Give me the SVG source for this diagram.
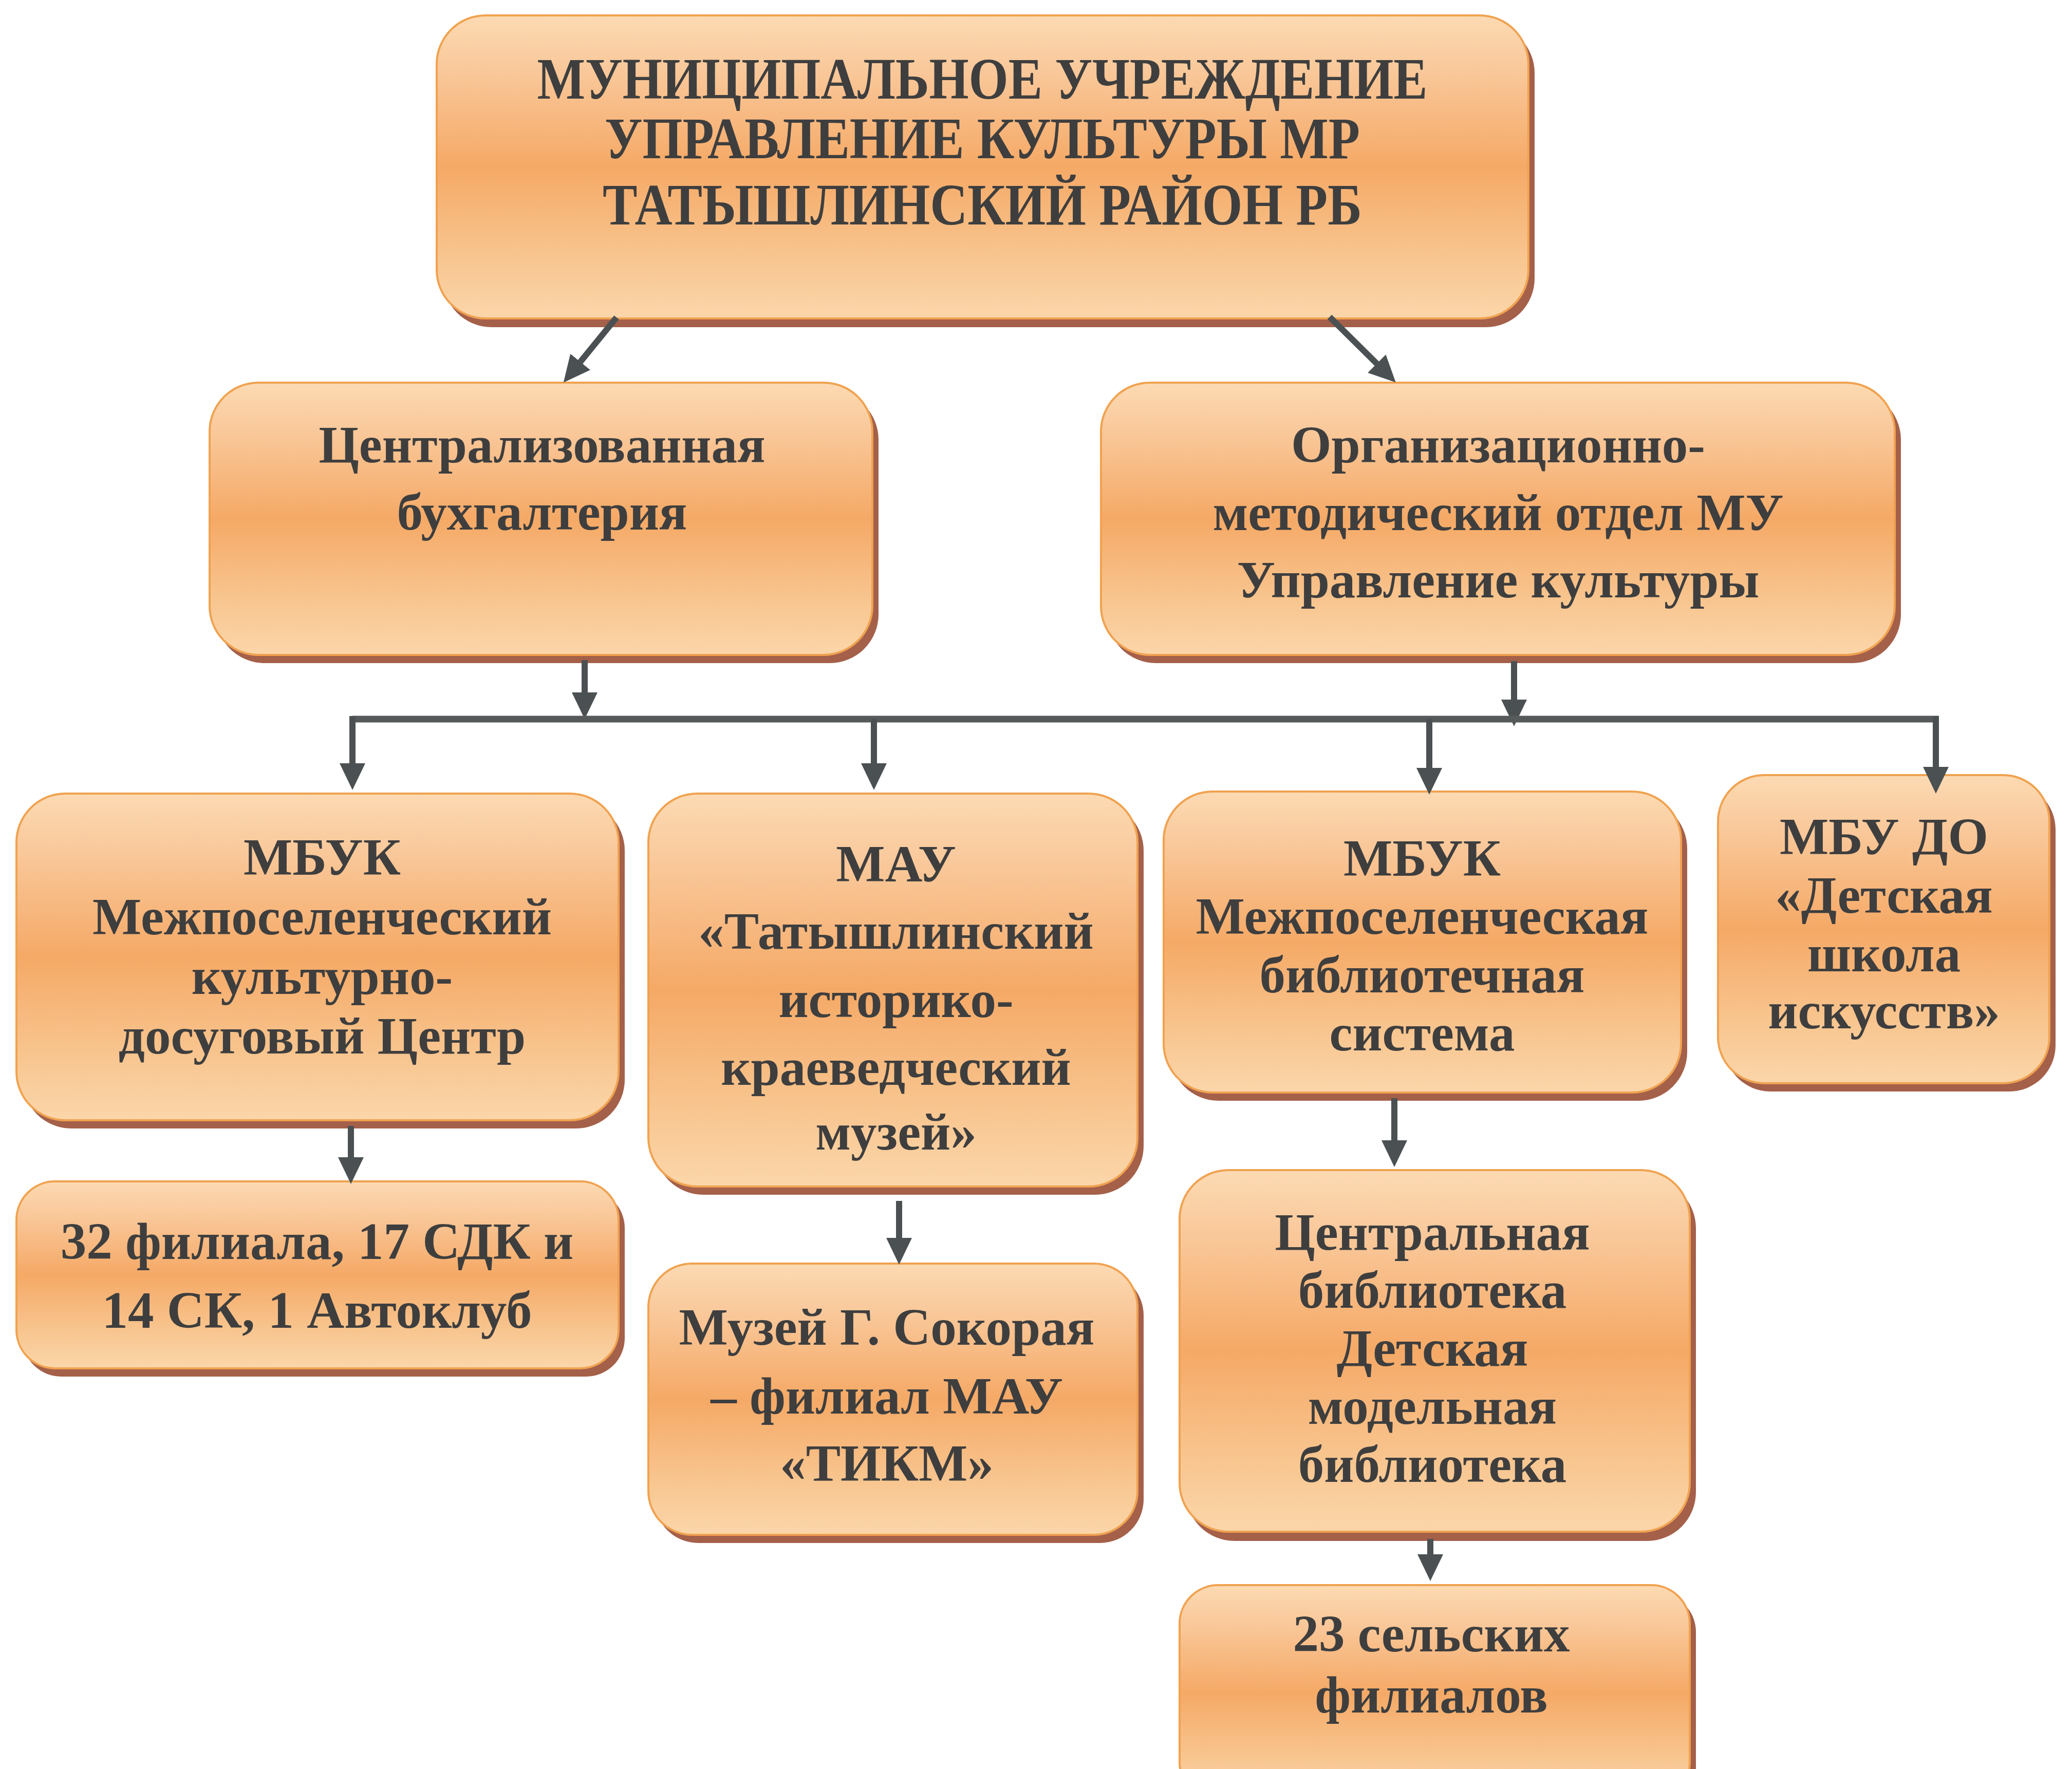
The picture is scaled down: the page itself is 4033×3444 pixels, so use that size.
<svg xmlns="http://www.w3.org/2000/svg" width="4033" height="3444" viewBox="0 0 4033 3444">
<defs>
<linearGradient id="fill" x1="0" y1="0" x2="0" y2="1">
<stop offset="0" stop-color="#fcdab3"/>
<stop offset="0.18" stop-color="#f9c89a"/>
<stop offset="0.5" stop-color="#f5a966"/>
<stop offset="0.82" stop-color="#f8c792"/>
<stop offset="1" stop-color="#fbd6aa"/>
</linearGradient>
<marker id="ah" markerUnits="userSpaceOnUse" markerWidth="52" markerHeight="50" viewBox="0 0 52 50" refX="20" refY="25" orient="auto">
<path d="M0,0 L52,25 L0,50 z" fill="#4b5153"/>
</marker>
</defs>
<style>
.sh{fill:#a5604a}
.bx{fill:url(#fill);stroke:#f0a250;stroke-width:4}
.t{font-family:"Liberation Serif","Times New Roman",serif;font-weight:bold;font-size:101px;fill:#3e3e3e;text-anchor:middle}
.tt{font-size:114px}
.c{fill:none;stroke:#4b5153;stroke-width:12}
.bus{fill:none;stroke:#575a5a;stroke-width:13}
</style>
<rect width="4033" height="3444" fill="#ffffff"/>

<g id="n1">
<rect class="sh" x="862" y="47" width="2125" height="590" rx="95"/>
<rect class="bx" x="850" y="30" width="2125" height="590" rx="95"/>
<text class="t tt" x="1912" y="192" textLength="1733" lengthAdjust="spacingAndGlyphs">МУНИЦИПАЛЬНОЕ УЧРЕЖДЕНИЕ</text>
<text class="t tt" x="1912" y="308" textLength="1470" lengthAdjust="spacingAndGlyphs">УПРАВЛЕНИЕ КУЛЬТУРЫ МР</text>
<text class="t tt" x="1912" y="437" textLength="1478" lengthAdjust="spacingAndGlyphs">ТАТЫШЛИНСКИЙ РАЙОН РБ</text>
</g>

<g id="n2">
<rect class="sh" x="420" y="761" width="1290" height="530" rx="95"/>
<rect class="bx" x="408" y="745" width="1290" height="530" rx="95"/>
<text class="t" x="1055" y="900">Централизованная</text>
<text class="t" x="1055" y="1031">бухгалтерия</text>
</g>

<g id="n3">
<rect class="sh" x="2155" y="761" width="1545" height="530" rx="95"/>
<rect class="bx" x="2143" y="745" width="1545" height="530" rx="95"/>
<text class="t" x="2916" y="900">Организационно-</text>
<text class="t" x="2916" y="1032">методический отдел МУ</text>
<text class="t" x="2916" y="1163">Управление культуры</text>
</g>

<g id="n4">
<rect class="sh" x="44" y="1561" width="1172" height="636" rx="95"/>
<rect class="bx" x="32" y="1545" width="1172" height="636" rx="95"/>
<text class="t" x="627" y="1703">МБУК</text>
<text class="t" x="627" y="1819">Межпоселенческий</text>
<text class="t" x="627" y="1935">культурно-</text>
<text class="t" x="627" y="2051">досуговый Центр</text>
</g>

<g id="n5">
<rect class="sh" x="1274" y="1561" width="952" height="765" rx="95"/>
<rect class="bx" x="1262" y="1545" width="952" height="765" rx="95"/>
<text class="t" x="1744" y="1716">МАУ</text>
<text class="t" x="1744" y="1847">«Татышлинский</text>
<text class="t" x="1744" y="1980">историко-</text>
<text class="t" x="1744" y="2112">краеведческий</text>
<text class="t" x="1744" y="2238">музей»</text>
</g>

<g id="n6">
<rect class="sh" x="2277" y="1557" width="1007" height="586" rx="95"/>
<rect class="bx" x="2265" y="1541" width="1007" height="586" rx="95"/>
<text class="t" x="2768" y="1705">МБУК</text>
<text class="t" x="2768" y="1818">Межпоселенческая</text>
<text class="t" x="2768" y="1932">библиотечная</text>
<text class="t" x="2768" y="2045">система</text>
</g>

<g id="n7">
<rect class="sh" x="3356" y="1525" width="645" height="600" rx="90"/>
<rect class="bx" x="3344" y="1509" width="645" height="600" rx="90"/>
<text class="t" x="3667" y="1663">МБУ ДО</text>
<text class="t" x="3667" y="1777">«Детская</text>
<text class="t" x="3667" y="1891">школа</text>
<text class="t" x="3667" y="2002">искусств»</text>
</g>

<g id="n8">
<rect class="sh" x="44" y="2316" width="1172" height="364" rx="75"/>
<rect class="bx" x="32" y="2300" width="1172" height="364" rx="75"/>
<text class="t" x="617" y="2451">32 филиала, 17 СДК и</text>
<text class="t" x="617" y="2585">14 СК, 1 Автоклуб</text>
</g>

<g id="n9">
<rect class="sh" x="1274" y="2476" width="952" height="528" rx="85"/>
<rect class="bx" x="1262" y="2460" width="952" height="528" rx="85"/>
<text class="t" x="1726" y="2618">Музей Г. Сокорая</text>
<text class="t" x="1726" y="2752">– филиал МАУ</text>
<text class="t" x="1726" y="2883">«ТИКМ»</text>
</g>

<g id="n10">
<rect class="sh" x="2308" y="2296" width="993" height="704" rx="95"/>
<rect class="bx" x="2296" y="2278" width="993" height="704" rx="95"/>
<text class="t" x="2788" y="2433">Центральная</text>
<text class="t" x="2788" y="2546">библиотека</text>
<text class="t" x="2788" y="2659">Детская</text>
<text class="t" x="2788" y="2772">модельная</text>
<text class="t" x="2788" y="2885">библиотека</text>
</g>

<g id="n11">
<rect class="sh" x="2308" y="3102" width="993" height="420" rx="75"/>
<rect class="bx" x="2296" y="3086" width="993" height="420" rx="75"/>
<text class="t" x="2786" y="3215">23 сельских</text>
<text class="t" x="2786" y="3334">филиалов</text>
</g>

<g id="connectors">
<line class="c" x1="1200" y1="618" x2="1117" y2="720" marker-end="url(#ah)"/>
<line class="c" x1="2588" y1="617" x2="2694" y2="722" marker-end="url(#ah)"/>
<line class="c" x1="1138" y1="1285" x2="1138" y2="1368" marker-end="url(#ah)"/>
<line class="c" x1="2947" y1="1287" x2="2947" y2="1382" marker-end="url(#ah)"/>
<polyline class="bus" points="686,1400 3774,1400"/>
<line class="c" x1="686" y1="1394" x2="686" y2="1506" marker-end="url(#ah)"/>
<line class="c" x1="1701" y1="1400" x2="1701" y2="1506" marker-end="url(#ah)"/>
<line class="c" x1="2782" y1="1400" x2="2782" y2="1515" marker-end="url(#ah)"/>
<line class="c" x1="3768" y1="1394" x2="3768" y2="1513" marker-end="url(#ah)"/>
<line class="c" x1="683" y1="2192" x2="683" y2="2273" marker-end="url(#ah)"/>
<line class="c" x1="1750" y1="2338" x2="1750" y2="2430" marker-end="url(#ah)"/>
<line class="c" x1="2714" y1="2138" x2="2714" y2="2240" marker-end="url(#ah)"/>
<line class="c" x1="2784" y1="2996" x2="2784" y2="3046" marker-end="url(#ah)"/>
</g>
</svg>
